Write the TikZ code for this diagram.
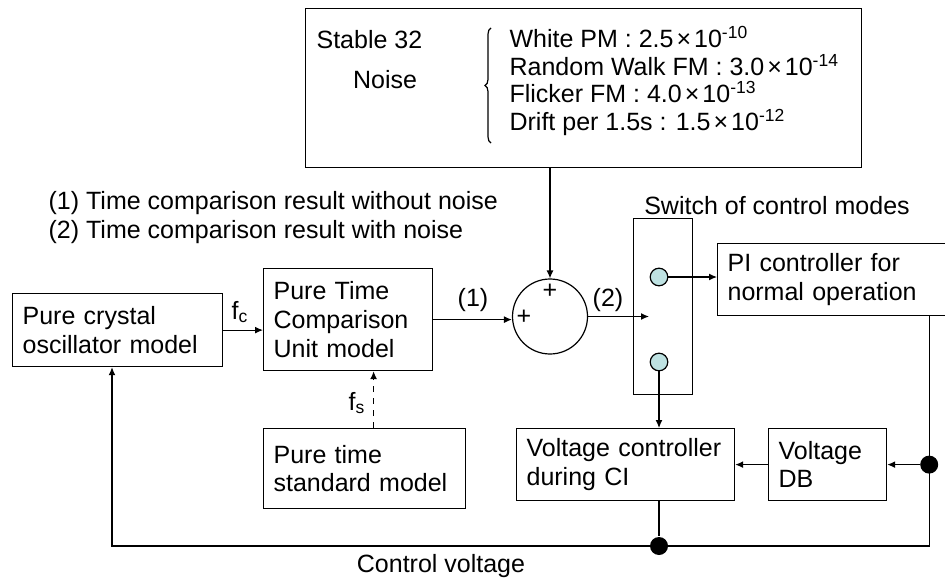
\documentclass[tikz,border=0pt]{standalone}
\usepackage{fontspec}
\setmainfont{Liberation Sans}
\usetikzlibrary{arrows.meta, positioning, decorations.pathreplacing}
\definecolor{contactblue}{RGB}{190,226,226}
\newcommand{\mul}{\kern1.5pt×\kern1.5pt}

\begin{document}
\begin{tikzpicture}[
        x=0.5pt, y=-0.5pt, line width=0.6pt,
        font=\fontsize{12.5}{14.3}\selectfont,
        box/.style={rectangle, draw, anchor=north west, align=left,
                    inner xsep=5pt, inner ysep=0pt},
        lbl/.style={inner sep=0pt},
        arrow/.style={-{Latex[length=4pt,width=3.5pt]}},
        contact/.style={circle, draw, fill=contactblue, inner sep=0pt, minimum size=8.8pt},
        junction/.style={circle, fill, inner sep=0pt, minimum size=9pt}
      ]
        \useasboundingbox (0,0) rectangle (945,582);
        % noise source
        \node[draw, anchor=north west, minimum width=278pt, minimum height=79.5pt, inner sep=0pt] (noise) at (305,8) {};
        \node[lbl, anchor=west] (stable) at (316,40) {Stable 32};
        \node[lbl] (noiselbl) at (385,80) {Noise};
        \node[lbl, anchor=west, align=left, font=\fontsize{12.5}{13.75}\selectfont] (params) at (509,81)
          {White PM : 2.5\mul 10\textsuperscript{-10}\\
           Random Walk FM : 3.0\mul 10\textsuperscript{-14}\\
           Flicker FM : 4.0\mul 10\textsuperscript{-13}\\
           Drift per 1.5s : 1.5\mul 10\textsuperscript{-12}};
        \draw[decorate, decoration={brace, amplitude=3pt}] (491,143) -- (491,28);

        % legend
        \node[lbl, anchor=west] (res1) at (48,203) {(1) Time comparison result without noise};
        \node[lbl, anchor=west] (res2) at (48,232) {(2) Time comparison result with noise};

        % blocks
        \node[box, text width=95pt, minimum height=36.5pt] (osc) at (12,293) {Pure crystal\\oscillator model};
        \node[box, text width=74.5pt, minimum height=51pt] (cmp) at (263,268) {Pure Time\\Comparison\\Unit model};
        \node[box, text width=91pt, minimum height=40pt] (std) at (263,428) {Pure time\\standard model};
        \node[circle, draw, minimum size=37.5pt, inner sep=0pt] (sum) at (550,316.5) {};
        \node[lbl] (plustop) at (550,291) {+};
        \node[lbl] (plusleft) at (524,317) {+};
        \node[draw, anchor=north west, minimum width=29.5pt, minimum height=88pt, inner sep=0pt] (switch) at (633,218) {};
        \node[lbl] (swlabel) at (777,206) {Switch of control modes};
        \node[contact] (c1) at (659,277) {};
        \node[contact] (c2) at (659,362) {};
        \node[box, text width=104.5pt, minimum height=36pt] (pi) at (717,243) {PI controller for\\normal operation};
        \node[box, text width=99pt, minimum height=36pt] (vctl) at (516,428) {Voltage controller\\during CI};
        \node[box, text width=49pt, minimum height=36pt] (vdb) at (768,428) {Voltage\\DB};
        \node[lbl] (cvlabel) at (441,566) {Control voltage};

        % signal labels
        \node[lbl] (fc) at (240,312) {f\textsubscript{c}};
        \node[lbl] (fs) at (357,403) {f\textsubscript{s}};
        \node[lbl] (sig1) at (473,300) {(1)};
        \node[lbl] (sig2) at (608,300) {(2)};

        % connectors
        \coordinate (swin) at (649,316.5);
        \coordinate (bl) at (112,546);
        \coordinate (rtop) at ([xshift=-9pt]pi.south east);
        \node[junction] (jr) at (rtop |- vdb.east) {};
        \node[junction] (jb) at (c2.south |- bl) {};
        \draw[arrow] (osc.east) -- (osc.east -| cmp.west);
        \draw[arrow, dashed] ([xshift=4.5pt]std.north) -- ([xshift=4.5pt]std.north |- cmp.south);
        \draw[arrow] (cmp.east) -- (cmp.east -| sum.west);
        \draw[arrow] (noise.south -| sum.north) -- (sum.north);
        \draw[arrow] (sum.east) -- (swin);
        \draw[arrow] (c1.east) -- (c1.east -| pi.west);
        \draw[arrow] (c2.south) -- (c2.south |- vctl.north);
        \draw[arrow] (jr) -- (vdb.east);
        \draw[arrow] (vdb.west) -- (vctl.east);
        \draw (vctl.south -| jb) -- (jb);
        \draw[arrow] (rtop) -- (rtop |- bl) -- (bl) -- (bl |- osc.south);
      \end{tikzpicture}
\end{document}
